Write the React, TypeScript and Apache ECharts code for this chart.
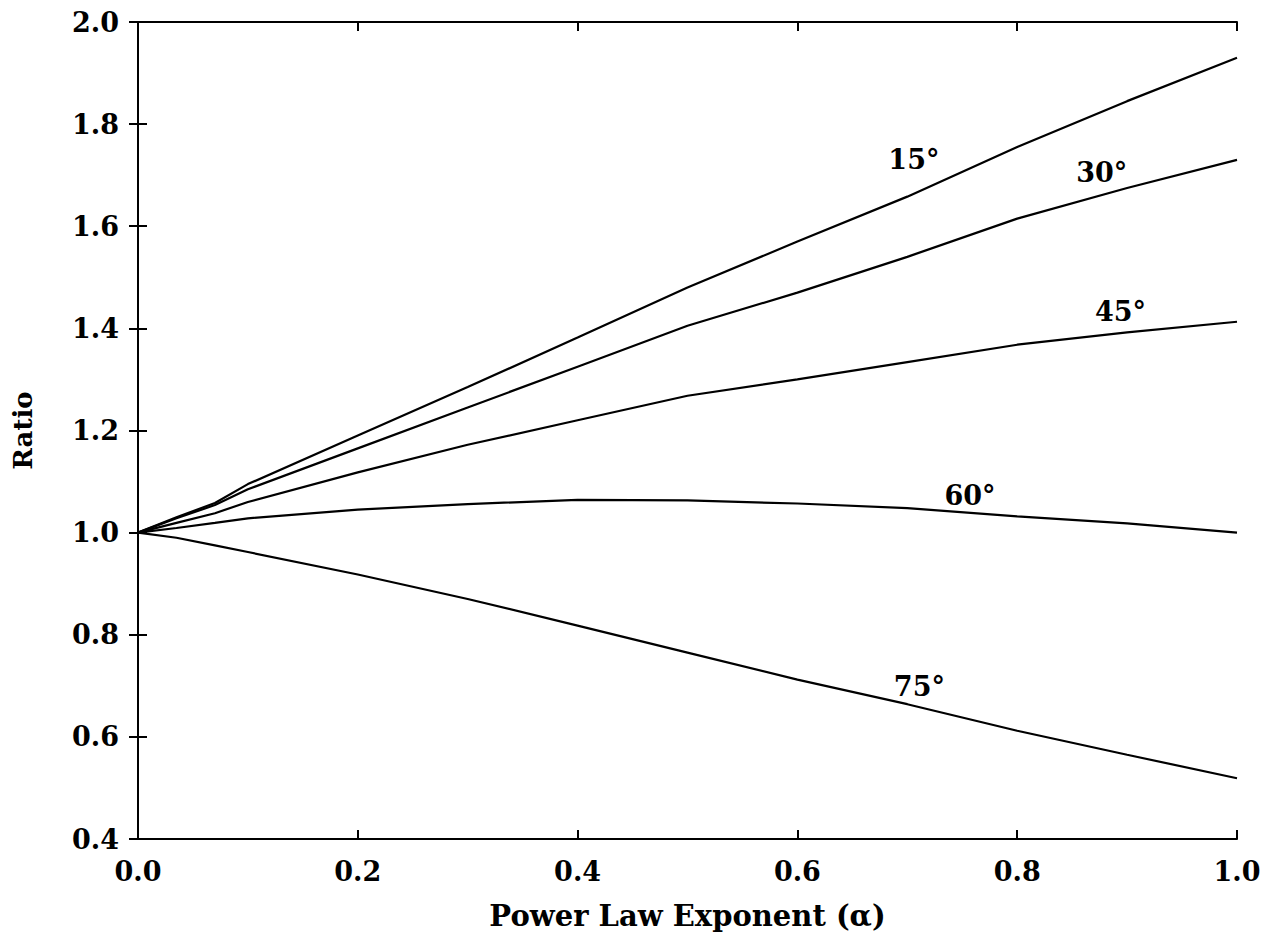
import React, { useEffect, useRef } from "react";
import * as echarts from "echarts";

const alpha = [0, 0.035, 0.07, 0.1, 0.2, 0.3, 0.4, 0.5, 0.6, 0.7, 0.8, 0.9, 1.0];
const r15 = [1.0, 1.03, 1.058, 1.095, 1.19, 1.285, 1.382, 1.48, 1.57, 1.658, 1.755, 1.845, 1.93];
const r30 = [1.0, 1.028, 1.054, 1.085, 1.165, 1.245, 1.325, 1.405, 1.47, 1.54, 1.615, 1.675, 1.73];
const r45 = [1.0, 1.019, 1.038, 1.06, 1.118, 1.172, 1.22, 1.268, 1.3, 1.334, 1.368, 1.392, 1.413];
const r60 = [1.0, 1.009, 1.019, 1.028, 1.045, 1.056, 1.064, 1.063, 1.057, 1.048, 1.032, 1.018, 1.0];
const r75 = [1.0, 0.99, 0.975, 0.962, 0.918, 0.87, 0.818, 0.765, 0.712, 0.664, 0.612, 0.565, 0.519];

const curveNames = ["15°", "30°", "45°", "60°", "75°"];
const curveValues = [r15, r30, r45, r60, r75];
// label anchor positions in data coordinates [alpha, ratio]
const labelAnchors = [
  [0.706, 1.73],
  [0.877, 1.706],
  [0.894, 1.434],
  [0.757, 1.072],
  [0.711, 0.698],
];

const FONT = "'DejaVu Serif', serif";

export default function App() {
  const ref = useRef<HTMLDivElement>(null);
  useEffect(() => {
    if (!ref.current) return;
    const chart = echarts.init(ref.current, null, { renderer: "svg" });
    const axisLine = { show: true, lineStyle: { color: "#000", width: 2 } };
    const tick = { show: true, inside: true, length: 9, lineStyle: { color: "#000", width: 2 } };
    const fmt = (v: number) => v.toFixed(1);
    const series = curveNames.map((name, i) => ({
      type: "line",
      name,
      data: alpha.map((a, j) => [a, curveValues[i][j]]),
      showSymbol: false,
      smooth: false,
      lineStyle: { color: "#000", width: 2.2 },
      itemStyle: { color: "#000" },
      markPoint: {
        symbol: "circle",
        symbolSize: 0,
        data: [
          {
            coord: labelAnchors[i],
            label: {
              show: true,
              position: "inside",
              formatter: name,
              color: "#000",
              fontFamily: FONT,
              fontWeight: "bold",
              fontSize: 27,
            },
          },
        ],
      },
    }));
    chart.setOption({
      animation: false,
      backgroundColor: "#fff",
      grid: { left: 138, right: 42, top: 22, bottom: 104, containLabel: false },
      xAxis: [
        {
          type: "value",
          min: 0,
          max: 1,
          interval: 0.2,
          position: "bottom",
          axisLine,
          axisTick: tick,
          splitLine: { show: false },
          axisLabel: {
            formatter: fmt,
            color: "#000",
            fontFamily: FONT,
            fontWeight: "bold",
            fontSize: 27,
            margin: 19,
          },
          name: "Power Law Exponent (α)",
          nameLocation: "middle",
          nameGap: 62,
          nameTextStyle: { color: "#000", fontFamily: FONT, fontWeight: "bold", fontSize: 29 },
        },
        {
          type: "value",
          min: 0,
          max: 1,
          interval: 0.2,
          position: "top",
          axisLine,
          axisTick: tick,
          splitLine: { show: false },
          axisLabel: { show: false },
        },
      ],
      yAxis: [
        {
          type: "value",
          min: 0.4,
          max: 2.0,
          interval: 0.2,
          position: "left",
          axisLine,
          axisTick: tick,
          splitLine: { show: false },
          axisLabel: {
            formatter: fmt,
            color: "#000",
            fontFamily: FONT,
            fontWeight: "bold",
            fontSize: 27,
            margin: 19,
          },
          name: "Ratio",
          nameLocation: "middle",
          nameGap: 102,
          nameRotate: 90,
          nameTextStyle: { color: "#000", fontFamily: FONT, fontWeight: "bold", fontSize: 26 },
        },
        {
          type: "value",
          min: 0.4,
          max: 2.0,
          interval: 0.2,
          position: "right",
          axisLine,
          axisTick: tick,
          splitLine: { show: false },
          axisLabel: { show: false },
        },
      ],
      series,
    });
    return () => chart.dispose();
  }, []);
  return (
    <div
      ref={ref}
      style={{ position: "fixed", left: 0, top: 0, width: 1279, height: 943, background: "#fff" }}
    />
  );
}
